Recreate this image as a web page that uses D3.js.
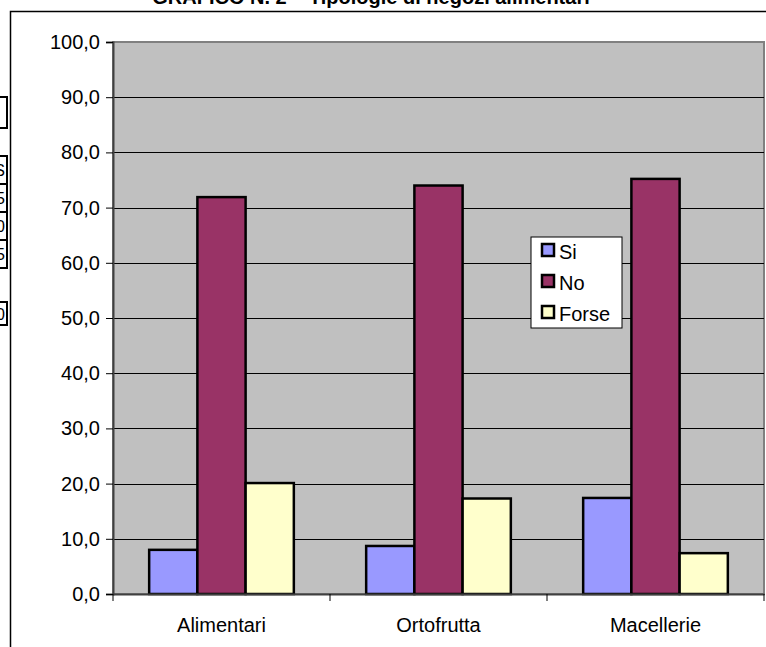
<!DOCTYPE html>
<html>
<head>
<meta charset="utf-8">
<script src="https://cdn.jsdelivr.net/npm/d3@7"></script>
<style>
  html, body { margin: 0; padding: 0; background: #ffffff; }
  svg { display: block; font-family: "Liberation Sans", Arial, sans-serif; }
</style>
</head>
<body>
<svg id="chart" width="766" height="647"></svg>
<script>
// Tipologie di negozi alimentari: risposte Si / No / Forse (%)
const categories = ["Alimentari", "Ortofrutta", "Macellerie"];
const seriesNames = ["Si", "No", "Forse"];
const valuesSi = [8.0, 8.7, 17.4];
const valuesNo = [71.9, 74.0, 75.2];
const valuesForse = [20.1, 17.3, 7.4];
const yTicks = [0, 10, 20, 30, 40, 50, 60, 70, 80, 90, 100];
const seriesColors = ["#9999ff", "#993366", "#ffffcc"];
const title = "GRAFICO N. 2 – Tipologie di negozi alimentari";

const FONT = "'Liberation Sans', Arial, sans-serif";
const FS = 20;

const seriesValues = [valuesSi, valuesNo, valuesForse];
const table = categories.map((c, i) => ({
  category: c,
  values: seriesNames.map((s, j) => ({ series: s, value: seriesValues[j][i] }))
}));

const svg = d3.select("#chart");

// Outer chart frame (continues past the right and bottom edges)
svg.append("rect")
  .attr("x", 10.5).attr("y", 11.5)
  .attr("width", 800).attr("height", 700)
  .attr("fill", "#ffffff").attr("stroke", "#000").attr("stroke-width", 1.5);

// Title, mostly above the top edge
svg.append("text")
  .attr("x", 371).attr("y", 4)
  .attr("text-anchor", "middle")
  .attr("font-size", 20).attr("font-weight", "bold")
  .text(title);

// Fragments of neighbouring boxes on the left edge
const sideBoxes = [
  { y: 97, h: 31, t: "" },
  { y: 156, h: 28, t: "S" },
  { y: 184, h: 28, t: "5" },
  { y: 212, h: 28, t: "0" },
  { y: 240, h: 28, t: "5" },
  { y: 302, h: 23, t: "0" }
];
const sideG = svg.append("g");
sideG.selectAll("rect").data(sideBoxes).join("rect")
  .attr("x", -40).attr("y", d => d.y)
  .attr("width", 47).attr("height", d => d.h)
  .attr("fill", "#fff").attr("stroke", "#000").attr("stroke-width", 2);
sideG.selectAll("text").data(sideBoxes).join("text")
  .attr("x", 5).attr("y", d => d.y + d.h / 2 + 6)
  .attr("text-anchor", "end")
  .attr("font-size", 16)
  .text(d => d.t);

const plot = { left: 113, top: 42, right: 764, bottom: 594 };

const x0 = d3.scaleBand()
  .domain(categories)
  .range([plot.left, plot.right])
  .paddingInner(0).paddingOuter(0);

const barGroupWidth = x0.bandwidth() * 3 / 4.5;
const x1 = d3.scaleBand()
  .domain(seriesNames)
  .range([(x0.bandwidth() - barGroupWidth) / 2, (x0.bandwidth() + barGroupWidth) / 2])
  .padding(0);

const y = d3.scaleLinear().domain([0, 100]).range([plot.bottom, plot.top]);

// Plot area background
svg.append("rect")
  .attr("x", plot.left).attr("y", plot.top)
  .attr("width", plot.right - plot.left).attr("height", plot.bottom - plot.top)
  .attr("fill", "#c0c0c0").attr("stroke", "#808080").attr("stroke-width", 2);

// Gridlines
svg.append("g")
  .selectAll("line").data(yTicks.filter(t => t > 0 && t < 100)).join("line")
  .attr("x1", plot.left).attr("x2", plot.right)
  .attr("y1", d => Math.round(y(d)) + 0.5).attr("y2", d => Math.round(y(d)) + 0.5)
  .attr("stroke", "#000").attr("stroke-width", 1);

// Y axis
const yAxis = d3.axisLeft(y)
  .tickValues(yTicks)
  .tickSize(7)
  .tickPadding(6)
  .tickFormat(d => d3.format(".1f")(d).replace(".", ","));
const yg = svg.append("g")
  .attr("transform", `translate(${plot.left},0)`)
  .call(yAxis);
yg.select(".domain").attr("stroke", "#404040").attr("stroke-width", 2);
yg.selectAll(".tick line").attr("stroke", "#000");
yg.selectAll(".tick text")
  .attr("font-size", FS).attr("fill", "#000")
  .attr("font-family", FONT);

// Bars
const groups = svg.append("g").selectAll("g").data(table).join("g")
  .attr("transform", d => `translate(${x0(d.category)},0)`);
groups.selectAll("rect").data(d => d.values).join("rect")
  .attr("x", d => x1(d.series))
  .attr("y", d => y(d.value))
  .attr("width", x1.bandwidth())
  .attr("height", d => y(0) - y(d.value))
  .attr("fill", (d, i) => seriesColors[i])
  .attr("stroke", "#000").attr("stroke-width", 2.5);

// X axis
const xAxis = d3.axisBottom(x0).tickSize(0).tickPadding(24);
const xg = svg.append("g")
  .attr("transform", `translate(0,${plot.bottom})`)
  .call(xAxis);
xg.select(".domain").attr("stroke", "#404040").attr("stroke-width", 2);
xg.selectAll(".tick text")
  .attr("font-size", FS).attr("fill", "#000")
  .attr("font-family", FONT);
// Category boundary ticks
xg.append("g").selectAll("line")
  .data(categories.map(c => x0(c)).concat([plot.right]))
  .join("line")
  .attr("x1", d => d).attr("x2", d => d)
  .attr("y1", 0).attr("y2", 7)
  .attr("stroke", "#000").attr("stroke-width", 1);

// Legend
const legend = svg.append("g").attr("transform", "translate(531,237)");
legend.append("rect")
  .attr("x", 0).attr("y", 0).attr("width", 91).attr("height", 91)
  .attr("fill", "#fff").attr("stroke", "#000").attr("stroke-width", 1);
const items = legend.selectAll("g.item").data(seriesNames).join("g")
  .attr("class", "item")
  .attr("transform", (d, i) => `translate(11,${7 + i * 31})`);
items.append("rect")
  .attr("width", 12).attr("height", 12).attr("y", 0)
  .attr("fill", (d, i) => seriesColors[i])
  .attr("stroke", "#000").attr("stroke-width", 2.5);
items.append("text")
  .attr("x", 17).attr("y", 15)
  .attr("font-size", FS)
  .text(d => d);
</script>
</body>
</html>
